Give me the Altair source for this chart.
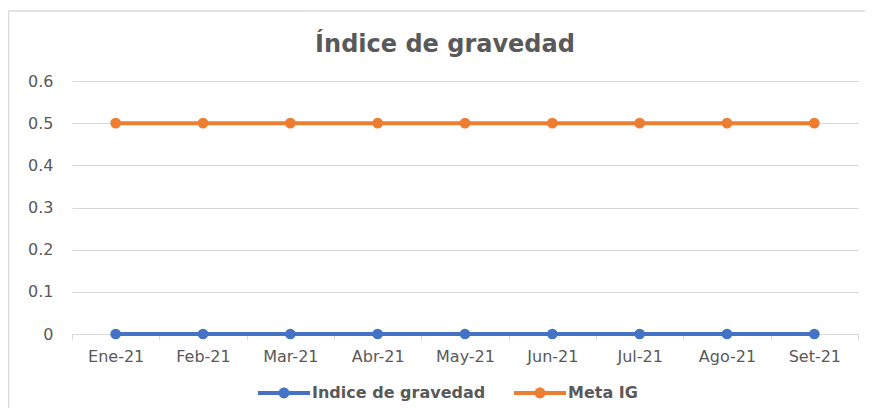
import altair as alt
import pandas as pd

months = ["Ene-21", "Feb-21", "Mar-21", "Abr-21", "May-21", "Jun-21", "Jul-21", "Ago-21", "Set-21"]
indice = [0, 0, 0, 0, 0, 0, 0, 0, 0]
meta = [0.5, 0.5, 0.5, 0.5, 0.5, 0.5, 0.5, 0.5, 0.5]
series_names = ["Indice de gravedad", "Meta IG"]
series_colors = ["#4472C4", "#ED7D31"]

rows = []
for m, v in zip(months, indice):
    rows.append({"mes": m, "serie": series_names[0], "valor": v})
for m, v in zip(months, meta):
    rows.append({"mes": m, "serie": series_names[1], "valor": v})
df = pd.DataFrame(rows)

W, H = 786, 253
FONT = "DejaVu Sans"
GRAY = "#595959"

legend_symbol = ("M-1,-0.08 L1,-0.08 L1,0.08 L-1,0.08 Z "
                 "M-0.21,0 A0.21,0.21 0 1,1 0.21,0 A0.21,0.21 0 1,1 -0.21,0 Z")

x_enc = alt.X("mes:N", sort=months, title=None,
              scale=alt.Scale(type="band", paddingInner=0, paddingOuter=0),
              axis=alt.Axis(tickBand="extent", labelAngle=0,
                            domainColor="#D9D9D9", tickColor="#D9D9D9", tickSize=6,
                            labelPadding=8, labelFontSize=16, labelColor=GRAY,
                            labelFont=FONT, grid=False))
y_enc = alt.Y("valor:Q", title=None,
              scale=alt.Scale(domain=[0, 0.6], nice=False),
              axis=alt.Axis(values=[0, 0.1, 0.2, 0.3, 0.4, 0.5, 0.6], format="~g",
                            domain=False, ticks=False, labelPadding=19,
                            labelFontSize=16, labelColor=GRAY, labelFont=FONT,
                            gridColor="#D9D9D9", gridWidth=1))
color_enc = alt.Color("serie:N", sort=series_names,
                      scale=alt.Scale(domain=series_names, range=series_colors),
                      legend=alt.Legend(title=None, orient="none", direction="horizontal",
                                        legendX=186, legendY=286,
                                        symbolType=legend_symbol, symbolSize=2704,
                                        symbolStrokeWidth=0, labelFont=FONT,
                                        labelFontSize=16, labelFontWeight="bold",
                                        labelColor=GRAY, labelOffset=2,
                                        columnPadding=28, labelLimit=400))

border = alt.Chart(pd.DataFrame({"a": [0]})).mark_rect(
    fill=None, stroke="#D9D9D9", strokeWidth=1.5, clip=False
).encode(x=alt.value(-63.5), x2=alt.value(W + 40), y=alt.value(-70), y2=alt.value(H + 100))

base = alt.Chart(df)
lines = base.mark_line(strokeWidth=4).encode(x=x_enc, y=y_enc, color=color_enc)
points = base.mark_circle(size=115, opacity=1).encode(x=x_enc, y=y_enc, color=color_enc)

chart = alt.layer(border, lines, points).properties(
    width=W, height=H,
    autosize=alt.AutoSizeParams(type="none"),
    padding={"left": 64, "top": 73, "right": 7, "bottom": 74},
    title=alt.Title("Índice de gravedad", font=FONT, fontSize=24, fontWeight="bold",
                    color=GRAY, anchor="middle", dx=-20, offset=-47),
).configure_view(stroke=None)

chart.save("out.html", embed_options={"renderer": "svg", "actions": False})
